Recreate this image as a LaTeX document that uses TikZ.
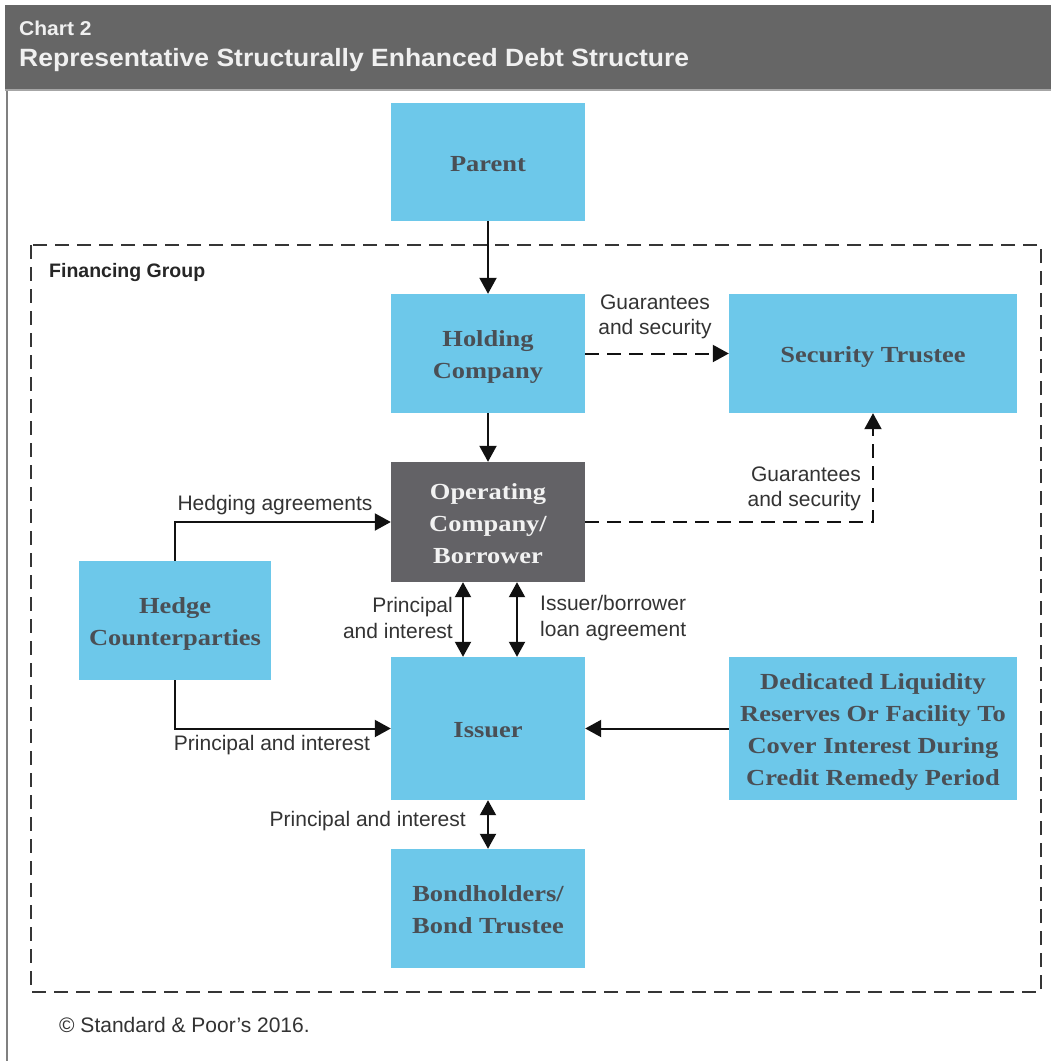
\documentclass[tikz,border=0pt]{standalone}
\usepackage{fontspec}
\setmainfont{Liberation Serif}
\setsansfont{Liberation Sans}
\usepackage{graphicx}
\usetikzlibrary{arrows.meta}
\definecolor{hdr}{HTML}{666666}
\definecolor{boxblue}{HTML}{6DC8EA}
\definecolor{boxdark}{HTML}{636266}
\definecolor{boxtxt}{HTML}{4A4F55}
\definecolor{lbltxt}{HTML}{333333}
\definecolor{lnclr}{HTML}{111111}
\newcommand\bt[1]{\raisebox{-3pt}[\height][\depth]{\scalebox{1.15}[1]{\begin{tabular}{@{}c@{}}#1\end{tabular}}}}
\begin{document}
\begin{tikzpicture}[x=1pt,y=-1pt,
  bluebox/.style={fill=boxblue,inner sep=0pt,text=boxtxt,font=\fontsize{23}{32}\selectfont\rmfamily\bfseries},
  darkbox/.style={fill=boxdark,inner sep=0pt,text=white!95!black,font=\fontsize{23}{32}\selectfont\rmfamily\bfseries},
  lbl/.style={text=lbltxt,inner sep=0pt,font=\fontsize{21}{25.5}\selectfont\sffamily},
  conn/.style={draw=lnclr,line width=2pt,-{Triangle[width=17pt,length=16pt]}},
  dbl/.style={draw=lnclr,line width=2pt,{Triangle[width=16pt,length=15pt]}-{Triangle[width=16pt,length=15pt]}},
  dsh/.style={dash pattern=on 14pt off 8pt},
]
\useasboundingbox (0,0) rectangle (1051,1061);
\fill[white] (0,0) rectangle (1051,1061);
% header
\fill[hdr] (5,5) rectangle (1051,89);
\fill[black!35] (5,89) rectangle (1051,91);
\draw[black!50,line width=2pt] (7,91) -- (7,1061);
\node[anchor=base west,inner sep=0pt,text=white!94!black,font=\fontsize{20}{24}\selectfont\sffamily\bfseries] (chart) at (19,35) {\scalebox{1.05}[1]{Chart 2}};
\node[anchor=base west,inner sep=0pt,text=white!94!black,font=\fontsize{25}{30}\selectfont\sffamily\bfseries] (title) at (19,66) {\scalebox{1.06}[1]{Representative Structurally Enhanced Debt Structure}};
% financing group frame
\draw[lnclr!85,line width=2pt,dsh] (31,245) rectangle (1041,992);
\node[anchor=base west,inner sep=0pt,text=black!85,font=\fontsize{19.5}{24}\selectfont\sffamily\bfseries] (fg) at (49,277) {Financing Group};
% boxes
\node[bluebox,minimum width=194pt,minimum height=118pt] (parent) at (488,162) {\bt{Parent}};
\node[bluebox,minimum width=194pt,minimum height=119pt] (holding) at (488,353.5) {\bt{Holding\\Company}};
\node[darkbox,minimum width=194pt,minimum height=120pt] (oper) at (488,522) {\bt{Operating\\Company/\\Borrower}};
\node[bluebox,minimum width=194pt,minimum height=143pt] (issuer) at (488,728.5) {\bt{Issuer}};
\node[bluebox,minimum width=194pt,minimum height=119pt] (bond) at (488,908.5) {\bt{Bondholders/\\Bond Trustee}};
\node[bluebox,minimum width=192pt,minimum height=119pt] (hedge) at (175,620.5) {\bt{Hedge\\Counterparties}};
\node[bluebox,minimum width=288pt,minimum height=119pt] (sec) at (873,353.5) {\bt{Security Trustee}};
\node[bluebox,minimum width=288pt,minimum height=143pt] (ded) at (873,728.5) {\bt{Dedicated Liquidity\\Reserves Or Facility To\\Cover Interest During\\Credit Remedy Period}};
% connectors
\draw[conn] (parent.south) -- (holding.north);
\draw[conn] (holding.south) -- (oper.north);
\draw[conn,dsh] (holding.east) -- (sec.west);
\draw[conn,dsh] (oper.east) -| (sec.south);
\draw[conn] (hedge.north) |- (oper.west);
\draw[conn] (hedge.south) |- (issuer.west);
\draw[conn] (ded.west) -- (issuer.east);
\draw[dbl] ([xshift=-25pt]oper.south) -- ([xshift=-25pt]issuer.north);
\draw[dbl] ([xshift=29pt]oper.south) -- ([xshift=29pt]issuer.north);
\draw[dbl] (issuer.south) -- (bond.north);
% labels
\node[lbl,align=center] (l1) at (655,317) {Guarantees\\and security};
\node[lbl,align=right,anchor=east] (l2) at (861,489) {Guarantees\\and security};
\node[lbl] (l3) at (275,505) {Hedging agreements};
\node[lbl,align=right,anchor=east] (l4) at (453,618) {Principal\\and interest};
\node[lbl,align=left,anchor=west] (l5) at (540,618) {Issuer/borrower\\loan agreement};
\node[lbl] (l6) at (272,745) {Principal and interest};
\node[lbl,anchor=east] (l7) at (466,821) {Principal and interest};
\node[lbl,anchor=base west] (copy) at (59,1032) {© Standard \& Poor’s 2016.};
\end{tikzpicture}
\end{document}
